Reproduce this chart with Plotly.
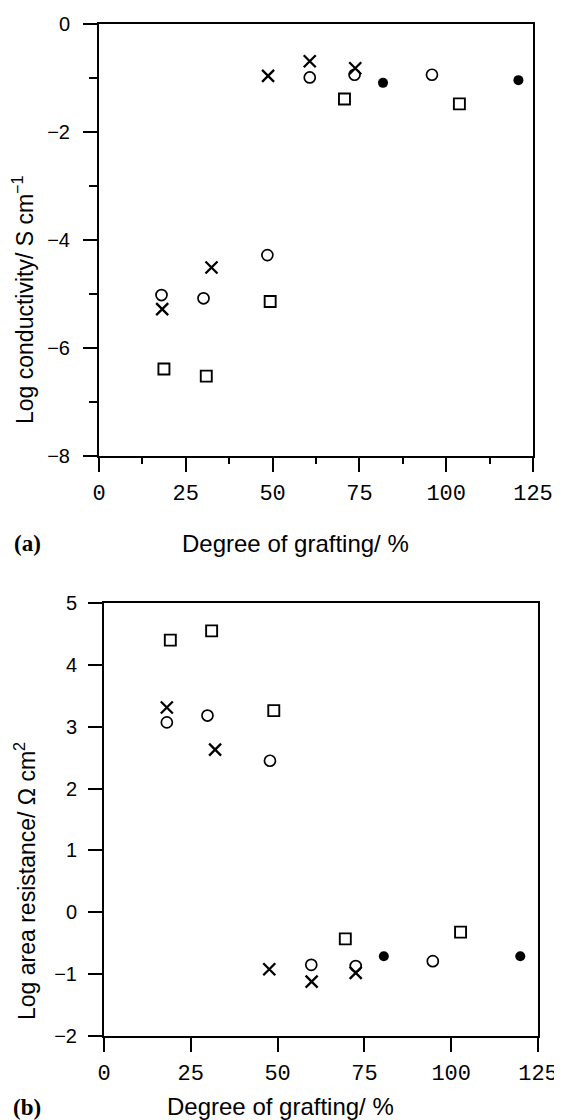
import plotly.graph_objects as go

# ---- data: panel (a) log conductivity ----
a_cross_x = [18.2, 32.4, 48.7, 60.7, 73.8]
a_cross_y = [-5.28, -4.51, -0.96, -0.69, -0.82]
a_circle_x = [18.0, 30.1, 48.5, 60.7, 73.6, 95.9]
a_circle_y = [-5.02, -5.08, -4.28, -0.99, -0.94, -0.94]
a_square_x = [18.7, 30.9, 49.3, 70.7, 103.8]
a_square_y = [-6.39, -6.52, -5.14, -1.39, -1.48]
a_filled_x = [81.8, 120.8]
a_filled_y = [-1.09, -1.04]

# ---- data: panel (b) log area resistance ----
b_cross_x = [18.1, 32.0, 47.6, 59.8, 72.5]
b_cross_y = [3.31, 2.63, -0.92, -1.12, -0.98]
b_circle_x = [18.1, 29.8, 47.8, 59.7, 72.5, 94.7]
b_circle_y = [3.07, 3.18, 2.45, -0.85, -0.87, -0.79]
b_square_x = [19.1, 31.0, 48.9, 69.5, 102.7]
b_square_y = [4.40, 4.55, 3.26, -0.43, -0.32]
b_filled_x = [80.6, 119.9]
b_filled_y = [-0.71, -0.71]

x_ticks = [0, 25, 50, 75, 100, 125]
a_y_ticks = [0, -2, -4, -6, -8]
b_y_ticks = [5, 4, 3, 2, 1, 0, -1, -2]

OFF = 8  # page body margin offset
W, H = 562 - OFF, 1120 - OFF
fig = go.Figure()

def add_panel(xa, ya, cx, cy, ox, oy, sx, sy, fx, fy):
    common = dict(mode="markers", xaxis=xa, yaxis=ya, showlegend=False, hoverinfo="skip")
    fig.add_trace(go.Scatter(x=cx, y=cy, marker=dict(symbol="x-thin", size=12, line=dict(width=2.3, color="black")), **common))
    fig.add_trace(go.Scatter(x=ox, y=oy, marker=dict(symbol="circle-open", size=11, color="black", line=dict(width=1.7)), **common))
    fig.add_trace(go.Scatter(x=sx, y=sy, marker=dict(symbol="square-open", size=11, color="black", line=dict(width=1.9)), **common))
    fig.add_trace(go.Scatter(x=fx, y=fy, marker=dict(symbol="circle", size=10, color="black"), **common))

add_panel("x", "y", a_cross_x, a_cross_y, a_circle_x, a_circle_y, a_square_x, a_square_y, a_filled_x, a_filled_y)
add_panel("x2", "y2", b_cross_x, b_cross_y, b_circle_x, b_circle_y, b_square_x, b_square_y, b_filled_x, b_filled_y)

def px_x(p):
    return (p - OFF) / W

def px_y(p):
    return 1 - (p - OFF) / H

mono = dict(family="Liberation Mono, DejaVu Sans Mono, monospace", size=22, color="black")
sans = dict(family="Liberation Sans, Arial, sans-serif", size=20, color="black")

axis_common = dict(showline=True, linecolor="black", linewidth=2, mirror=True,
                   showgrid=False, zeroline=False, ticks="outside", tickcolor="black",
                   tickwidth=1.8, automargin=False)

fig.update_layout(
    template="none",
    width=W, height=H, margin=dict(l=0, r=0, t=0, b=0, pad=0),
    paper_bgcolor="white", plot_bgcolor="white",
    xaxis=dict(domain=[px_x(99), px_x(533)], range=[0, 125], anchor="y",
               tickvals=x_ticks, ticklen=14, tickfont=mono, ticklabelstandoff=2,
               minor=dict(dtick=12.5, tick0=0, ticks="outside", ticklen=6, tickcolor="black", tickwidth=1.8),
               **axis_common),
    yaxis=dict(domain=[px_y(456), px_y(24)], range=[-8, 0], anchor="x",
               tickvals=a_y_ticks, ticklen=14, tickfont=sans, ticklabelstandoff=9,
               minor=dict(dtick=1, tick0=0, ticks="outside", ticklen=8, tickcolor="black", tickwidth=1.8),
               **axis_common),
    xaxis2=dict(domain=[px_x(104), px_x(538)], range=[0, 125], anchor="y2",
                tickvals=x_ticks, ticklen=14, tickfont=mono, ticklabelstandoff=2, **axis_common),
    yaxis2=dict(domain=[px_y(1036), px_y(603)], range=[-2, 5], anchor="x2",
                tickvals=b_y_ticks, ticklen=14, tickfont=sans, ticklabelstandoff=7, **axis_common),
)

xtitle_font = dict(family="Liberation Sans, Arial, sans-serif", size=24, color="black")
ytitle_font = dict(family="Liberation Sans, Arial, sans-serif", size=23, color="black")
label_font = dict(family="Liberation Serif, Times New Roman, serif", size=23, color="black")

annots = [
    dict(text="Log conductivity/ S cm<sup>−1</sup>", x=px_x(23), y=px_y(300), textangle=-90, font=ytitle_font),
    dict(text="Degree of grafting/ %", x=px_x(295), y=px_y(543), font=xtitle_font),
    dict(text="<b>(a)</b>", x=px_x(27), y=px_y(543), font=label_font),
    dict(text="Log area resistance/ Ω cm<sup>2</sup>", x=px_x(25), y=px_y(881), textangle=-90, font=ytitle_font),
    dict(text="Degree of grafting/ %", x=px_x(280), y=px_y(1106), font=xtitle_font),
    dict(text="<b>(b)</b>", x=px_x(27), y=px_y(1107), font=label_font),
]
for a in annots:
    fig.add_annotation(xref="paper", yref="paper", showarrow=False,
                       xanchor="center", yanchor="middle", **a)

fig.write_html("out.html")
